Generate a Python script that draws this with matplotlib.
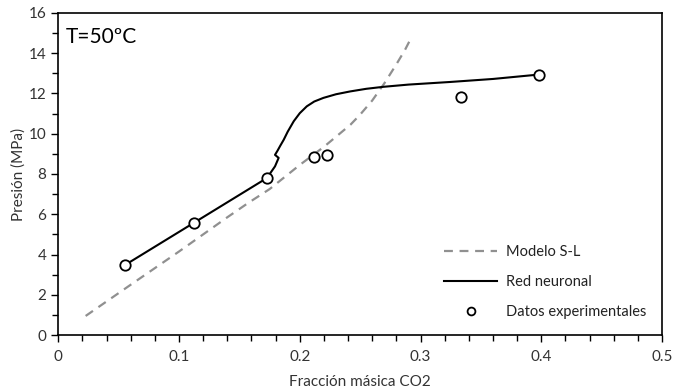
import numpy as np
import matplotlib
matplotlib.use('Agg')
import matplotlib.pyplot as plt
from matplotlib.ticker import MultipleLocator

plt.rcParams['font.family'] = ['Lato', 'DejaVu Sans']

# datos experimentales
xExp = [0.0553, 0.1127, 0.1728, 0.2118, 0.2223, 0.3334, 0.3983]
yExp = [3.48, 5.59, 7.80, 8.82, 8.92, 11.83, 12.94]

# modelo S-L
xSL = [0.0227, 0.06, 0.10, 0.14, 0.157, 0.175, 0.20, 0.21, 0.22, 0.23, 0.242, 0.25, 0.26,
       0.27, 0.28, 0.287, 0.293]
ySL = [0.95, 2.5, 4.15, 5.85, 6.55, 7.25, 8.45, 8.9, 9.35, 9.85, 10.45, 10.95, 11.65,
       12.5, 13.45, 14.15, 14.85]

# red neuronal
xRN = [0.0553, 0.1127, 0.1728, 0.1795, 0.1825, 0.1795, 0.1815, 0.1840, 0.1867, 0.1900,
       0.1950, 0.2000, 0.2058, 0.2120, 0.2196, 0.2300, 0.2417, 0.2550, 0.2693, 0.2900,
       0.3245, 0.3600, 0.3983]
yRN = [3.48, 5.59, 7.80, 8.38, 8.80, 8.95, 9.15, 9.42, 9.70, 10.10,
       10.62, 11.02, 11.36, 11.60, 11.78, 11.96, 12.10, 12.23, 12.33, 12.44,
       12.57, 12.72, 12.94]

fig = plt.figure(figsize=(6.77, 3.91), dpi=100)
ax = fig.add_axes([0.086, 0.143, 0.892, 0.824])

ax.plot(xSL, ySL, '--', color='#909090', lw=1.6, dashes=(4, 3), label='Modelo S-L')
ax.plot(xRN, yRN, '-', color='black', lw=1.5, label='Red neuronal')
ax.plot(xExp, yExp, 'o', mfc='white', mec='black', mew=1.3, ms=7.5,
        label='Datos experimentales', zorder=5)

ax.set_xlim(0, 0.5)
ax.set_ylim(0, 16)
ax.xaxis.set_minor_locator(MultipleLocator(0.02))
ax.yaxis.set_major_locator(MultipleLocator(2))
ax.yaxis.set_minor_locator(MultipleLocator(1))
ax.set_xticks([0, 0.1, 0.2, 0.3, 0.4, 0.5])
ax.set_xticklabels(['0', '0.1', '0.2', '0.3', '0.4', '0.5'])
ax.tick_params(which='major', direction='out', length=5, width=1, labelsize=11, colors='black',
               labelcolor='#333333')
ax.tick_params(axis='x', which='major', pad=6)
ax.tick_params(which='minor', direction='out', length=4, width=1)
for s in ax.spines.values():
    s.set_linewidth(1.2)

ax.set_xlabel('Fracción másica CO2', fontsize=11, color='#333333', labelpad=8)
ax.set_ylabel('Presión (MPa)', fontsize=11, color='#333333', labelpad=2)
ax.text(0.013, 0.955, 'T=50ºC', transform=ax.transAxes, fontsize=15, va='top', ha='left')

leg = ax.legend(frameon=False, loc='lower right', bbox_to_anchor=(0.995, 0.01), fontsize=10.5,
                labelspacing=1.1, handlelength=3.6, handletextpad=0.6, markerscale=0.75)
for t in leg.get_texts():
    t.set_color('#222222')

fig.savefig('out.png', dpi=100)
